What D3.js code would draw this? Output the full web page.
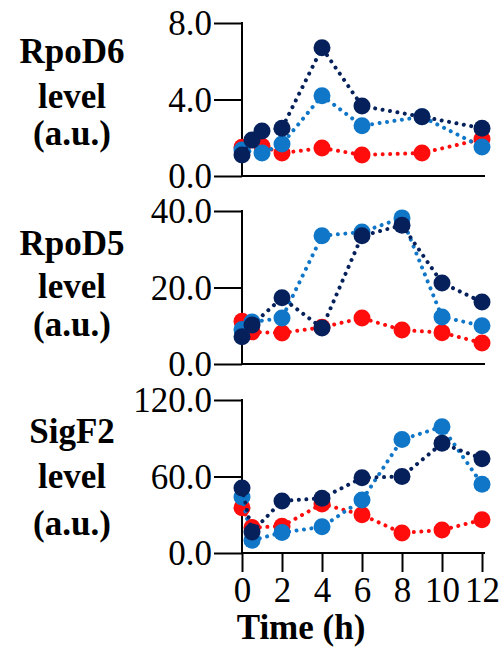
<!DOCTYPE html>
<html>
<head>
	<meta charset="UTF-8">
	<title>sigma factor levels</title>
	<style>
html, body {
	margin:0;padding:0;background:#fff;
}
.ylab, .xlab {font-weight: bold;}
	</style>
	<script src="https://cdn.jsdelivr.net/npm/d3@7/dist/d3.min.js"></script>
</head>
<body>
<script>
// time points (h) for each panel
const timesRpoD6 = [0, 0.5, 1, 2, 4, 6, 9, 12];
const timesRpoD5 = [0, 0.5, 2, 4, 6, 8, 10, 12];
const timesSigF2 = [0, 0.5, 2, 4, 6, 8, 10, 12];

// values (null = no point)
const rpoD6Red   = [1.5, null, 1.55, 1.2, 1.46, 1.1, 1.2, 1.93];
const rpoD6Light = [1.36, null, 1.2, 1.67, 4.2, 2.63, 3.1, 1.52];
const rpoD6Navy  = [1.1, 1.88, 2.35, 2.5, 6.7, 3.66, 3.1, 2.5];

const rpoD5Red   = [11.2, 8.4, 8.1, 9.6, 12.0, 8.9, 8.2, 5.5];
const rpoD5Light = [9.0, 11.0, 12.0, 33.5, 34.5, 38.2, 12.3, 10.0];
const rpoD5Navy  = [7.1, 10.2, 17.3, 9.4, 33.5, 36.3, 21.2, 16.2];

const sigF2Red   = [35.5, 20, 21, 38.5, 30, 15.7, 18, 26];
const sigF2Light = [44, 10, 16, 20.5, 41.5, 89, 99, 54];
const sigF2Navy  = [51, 16.5, 40.8, 43, 59, 60, 86, 74];

const yTicksRpoD6 = [0, 4, 8];
const yTicksRpoD5 = [0, 20, 40];
const yTicksSigF2 = [0, 60, 120];
const xTicks = [0, 2, 4, 6, 8, 10, 12];
const colors = ['#ff0d0d', '#0f76c8', '#06205c'];

const panels = [
	{name: 'RpoD6', times: timesRpoD6, series: [rpoD6Red, rpoD6Light, rpoD6Navy], ticks: yTicksRpoD6, top: 23, lab: [40, 85, 122]},
	{name: 'RpoD5', times: timesRpoD5, series: [rpoD5Red, rpoD5Light, rpoD5Navy], ticks: yTicksRpoD5, top: 211, lab: [44, 87, 125]},
	{name: 'SigF2', times: timesSigF2, series: [sigF2Red, sigF2Light, sigF2Navy], ticks: yTicksSigF2, top: 400, lab: [43, 88, 135]}
];

// pick the first serif face that is really installed
const pickFont = cands => {
	const c = document.createElement('canvas').getContext('2d');
	const s = 'RpoD6 level (a.u.) 120.0 Time';
	const w = f => (c.font = `35px ${f}`, c.measureText(s).width);
	for (const f of cands) {
		if (w(`"${f}", monospace`) === w(`"${f}", sans-serif`)) return `"${f}", serif`;
	}
	return 'serif';
};
const FONT = pickFont(['Liberation Serif', 'Tinos', 'Times New Roman', 'Times', 'Nimbus Roman', 'FreeSerif', 'DejaVu Serif', 'Noto Serif']);

const W = 499, H = 647, ph = 153, fs = 35;
const x = d3.scaleLinear().domain([0, 12]).range([242, 482]);

const svg = d3.select(document.body).append('svg').attr('width', W).attr('height', H)
	.attr('font-family', FONT);
svg.append('rect').attr('width', W).attr('height', H).attr('fill', '#fff');

panels.forEach((p, pi) => {
	const y = d3.scaleLinear().domain([0, d3.max(p.ticks)]).range([p.top + ph, p.top]);
	const g = svg.append('g');

	// y axis
	const ya = d3.axisLeft(y).tickValues(p.ticks).tickFormat(d3.format('.1f')).tickSize(28).tickPadding(2);
	const yg = g.append('g').attr('transform', `translate(${x(0)},0)`).call(ya).attr('font-family', FONT);
	yg.select('.domain').remove();
	yg.selectAll('line').attr('stroke', '#000').attr('stroke-width', 2);
	yg.selectAll('text').attr('font-size', fs).attr('fill', '#000').attr('dy', '0.34em');
	g.append('line').attr('x1', x(0)).attr('x2', x(0)).attr('y1', y(d3.max(p.ticks)) - 1).attr('y2', y(0) + 1)
		.attr('stroke', '#000').attr('stroke-width', 2);

	// x axis
	g.append('line').attr('x1', x(0) - 1).attr('x2', x(12) + 3).attr('y1', y(0)).attr('y2', y(0))
		.attr('stroke', '#000').attr('stroke-width', 2);
	if (pi === panels.length - 1) {
		const xa = d3.axisBottom(x).tickValues(xTicks).tickSize(19).tickPadding(5);
		const xg = g.append('g').attr('transform', `translate(0,${y(0)})`).call(xa).attr('font-family', FONT);
		xg.select('.domain').remove();
		xg.selectAll('line').attr('stroke', '#000').attr('stroke-width', 2);
		xg.selectAll('text').attr('font-size', fs).attr('fill', '#000');
		svg.append('text').attr('class', 'xlab').attr('x', 301).attr('y', 639)
			.attr('text-anchor', 'middle').attr('font-size', fs).text('Time (h)');
	}

	// y label
	[p.name, 'level', '(a.u.)'].forEach((t, i) => {
		g.append('text').attr('class', 'ylab').attr('x', 72).attr('y', p.top + p.lab[i])
			.attr('text-anchor', 'middle').attr('font-size', fs).text(t);
	});

	// series
	p.series.forEach((vals, si) => {
		const pts = p.times.map((t, i) => ({t, v: vals[i]})).filter(d => d.v != null);
		const line = d3.line().x(d => x(d.t)).y(d => y(d.v));
		g.append('path').attr('d', line(pts)).attr('fill', 'none')
			.attr('stroke', colors[si]).attr('stroke-width', 4)
			.attr('stroke-linecap', 'round').attr('stroke-dasharray', '0.01 7.5');
		g.selectAll(null).data(pts).enter().append('circle')
			.attr('cx', d => x(d.t)).attr('cy', d => y(d.v)).attr('r', 8.5)
			.attr('fill', colors[si]);
	});
});
</script>
</body>
</html>
